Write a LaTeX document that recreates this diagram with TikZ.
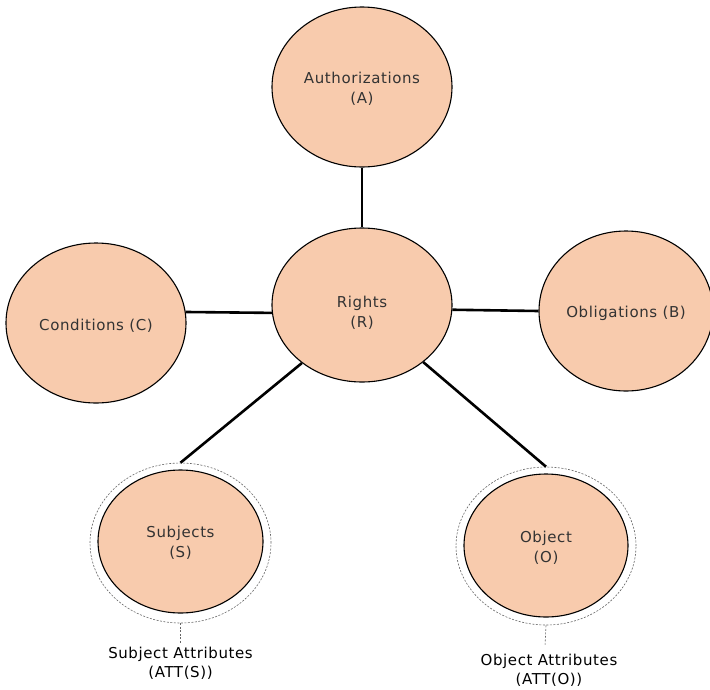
\documentclass[tikz,border=0pt]{standalone}
\usepackage{fontspec}
\setmainfont{DejaVu Sans}
\newfontfamily\widesans[LetterSpace=4]{DejaVu Sans}
\usetikzlibrary{shapes.geometric}
\definecolor{bubble}{HTML}{F8CBAD}
\definecolor{ink}{HTML}{333333}
% centred text block lowered by a given amount, without changing the node size
\newcommand\bubbletext[2][0pt]{\smash{\raisebox{#1}{\begin{tabular}{@{}c@{}}#2\end{tabular}}}}
\begin{document}
\begin{tikzpicture}[x=1pt,y=-1pt,
  bubble/.style={ellipse,draw=black,line width=1.1pt,fill=bubble,inner sep=0pt,
    text=ink,font=\widesans\fontsize{15}{20}\selectfont,align=center},
  ring/.style={ellipse,draw=gray!80!black,dash pattern=on 2pt off 1.5pt,line width=0.6pt,inner sep=0pt},
  link/.style={line width=2.6pt,black},
  tether/.style={draw=gray!80!black,dash pattern=on 2pt off 1.5pt,line width=0.6pt},
  caption/.style={text=black,font=\widesans\fontsize{15}{19}\selectfont,align=center,inner sep=0pt}]
\useasboundingbox (0,0) rectangle (710,689);
\fill[white] (0,0) rectangle (710,689);

% central concept and its satellites
\node[bubble,minimum width=180pt,minimum height=154pt] (R) at (362,305) {\bubbletext[-12.5pt]{Rights\\(R)}};
\node[bubble,minimum width=180pt,minimum height=160pt] (A) at (362,87) {\bubbletext[-6.5pt]{Authorizations\\(A)}};
\node[bubble,minimum width=180pt,minimum height=160pt] (C) at (96,323) {\bubbletext[-6.75pt]{Conditions (C)}};
\node[bubble,minimum width=174pt,minimum height=160pt] (B) at (626,311) {\bubbletext[-5.75pt]{Obligations (B)}};

% subjects and objects with their attribute rings
\node[ring,minimum width=181pt,minimum height=160pt] (Sring) at (180.5,543) {};
\node[bubble,minimum width=165pt,minimum height=143pt] (S) at (180.5,541.5) {\bubbletext[-5.75pt]{Subjects\\(S)}};
\node[ring,minimum width=180pt,minimum height=158pt] (Oring) at (546,546) {};
\node[bubble,minimum width=164pt,minimum height=143pt] (O) at (546,545.5) {\bubbletext[-6.75pt]{Object\\(O)}};

% attribute captions
\node[caption] (SA) at (180.5,663) {Subject Attributes\\(ATT(S))};
\node[caption] (OA) at (549,670) {Object Attributes\\(ATT(O))};
\coordinate (Send) at (180.5,643);
\coordinate (Oend) at (545,646);
\draw[tether] (Sring.south) -- (Send);
\draw[tether] (Oring.south) -- (Oend);

% connectors
\draw[link] (A.south) -- (R.north);
\draw[link] (C.7.7) -- (R.185);
\draw[link] (R.-3.2) -- (B.west);
\draw[link] (R.224.5) -- (Sring.north);
\draw[link] (R.-43.6) -- (Oring.north);
\end{tikzpicture}
\end{document}
